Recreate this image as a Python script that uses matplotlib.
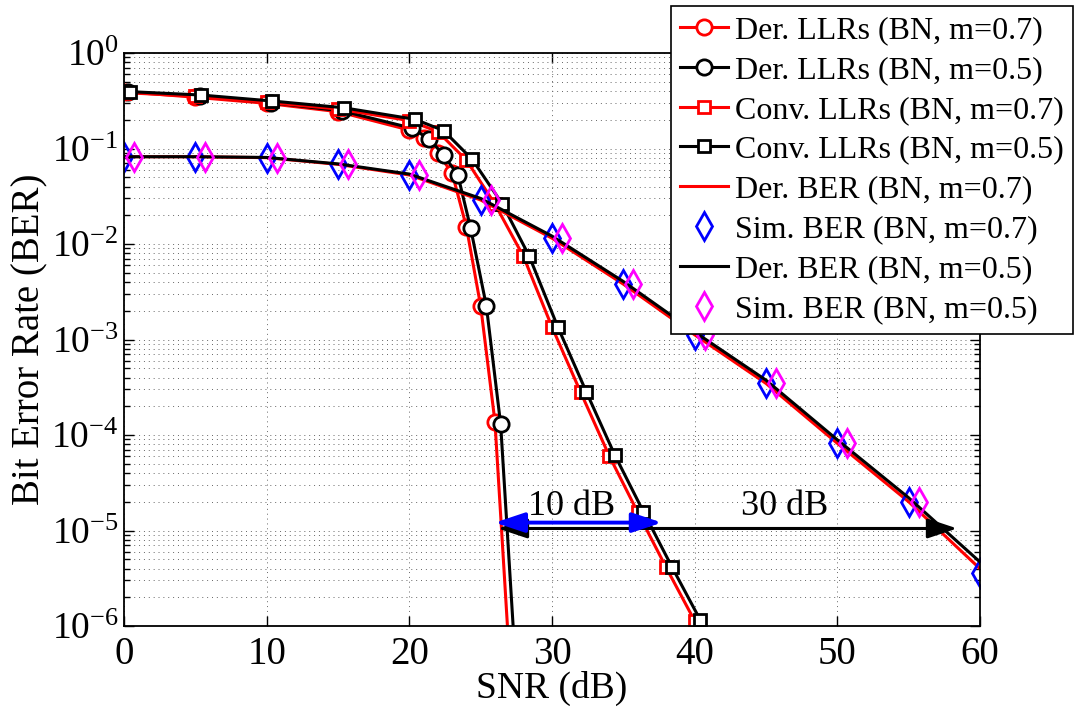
import matplotlib
matplotlib.use('Agg')
import matplotlib.pyplot as plt
from matplotlib.ticker import FixedLocator, NullFormatter, LogFormatterSciNotation

plt.rcParams['font.family'] = ['Liberation Serif', 'DejaVu Serif']
plt.rcParams['mathtext.fontset'] = 'custom'
plt.rcParams['mathtext.rm'] = 'Liberation Serif'
plt.rcParams['mathtext.it'] = 'Liberation Serif:italic'
plt.rcParams['mathtext.bf'] = 'Liberation Serif:bold'

# ---------------- data ----------------
# Derived LLRs (circles)
snr_dllr_07 = [0, 5, 10, 15, 20, 21, 22, 23, 24, 25, 26, 27]
ber_dllr_07 = [0.394, 0.344, 0.297, 0.243, 0.156, 0.129, 0.0897, 0.0553,
               0.0151, 2.24e-3, 1.38e-4, 5.0e-7]
snr_dllr_05 = [0.3, 5.3, 10.3, 15.3, 20.2, 21.4, 22.4, 23.4, 24.3, 25.4, 26.4, 27.4]
ber_dllr_05 = [0.391, 0.355, 0.302, 0.247, 0.163, 0.125, 0.0855, 0.0528,
               0.0146, 2.24e-3, 1.30e-4, 5.0e-7]

# Conventional LLRs (squares)
snr_cllr_07 = [0, 5, 10, 15, 20, 22, 24, 26, 28, 30, 32, 34, 36, 38, 40]
ber_cllr_07 = [0.385, 0.352, 0.305, 0.259, 0.196, 0.150, 0.0755, 0.0262,
               7.4e-3, 1.35e-3, 2.82e-4, 6.1e-5, 1.56e-5, 4.1e-6, 1.13e-6]
snr_cllr_05 = [0.4, 5.4, 10.4, 15.4, 20.4, 22.4, 24.4, 26.5, 28.4, 30.4,
               32.4, 34.4, 36.4, 38.4, 40.4]
ber_cllr_05 = [0.394, 0.363, 0.314, 0.267, 0.202, 0.154, 0.0771, 0.0265,
               7.48e-3, 1.36e-3, 2.84e-4, 6.17e-5, 1.58e-5, 4.17e-6, 1.15e-6]

# Derived / simulated BER
snr_ber = [0, 5, 10, 15, 20, 25, 30, 35, 40, 45, 50, 55, 60]
ber_der_07 = [0.0820, 0.0820, 0.0802, 0.0682, 0.0528, 0.0289, 0.0115,
              3.80e-3, 1.12e-3, 3.47e-4, 8.18e-5, 2.00e-5, 3.98e-6]
ber_der_05 = [0.0820, 0.0820, 0.0806, 0.0690, 0.0540, 0.0300, 0.0121,
              4.05e-3, 1.20e-3, 3.75e-4, 8.9e-5, 2.2e-5, 4.68e-6]
snr_sim_07 = [0, 5, 10, 15, 20, 25, 30, 35, 40, 45, 50, 55, 60]
ber_sim_07 = [0.0820, 0.0820, 0.0802, 0.0682, 0.0528, 0.0289, 0.0115,
              3.80e-3, 1.12e-3, 3.47e-4, 8.18e-5, 2.00e-5, 3.63e-6]
snr_sim_05 = [0.7, 5.7, 10.7, 15.7, 20.7, 25.7, 30.7, 35.7, 40.7, 45.7, 50.7, 55.7]
ber_sim_05 = [0.0820, 0.0820, 0.0802, 0.0682, 0.0528, 0.0289, 0.0115,
              3.80e-3, 1.12e-3, 3.47e-4, 8.18e-5, 2.00e-5]

labels = ['Der. LLRs (BN, m=0.7)', 'Der. LLRs (BN, m=0.5)',
          'Conv. LLRs (BN, m=0.7)', 'Conv. LLRs (BN, m=0.5)',
          'Der. BER (BN, m=0.7)', 'Sim. BER (BN, m=0.7)',
          'Der. BER (BN, m=0.5)', 'Sim. BER (BN, m=0.5)']

xticks = [0, 10, 20, 30, 40, 50, 60]
yticks = [1e-6, 1e-5, 1e-4, 1e-3, 1e-2, 1e-1, 1e0]
yminor = [m * d for d in [1e-6, 1e-5, 1e-4, 1e-3, 1e-2, 1e-1] for m in range(2, 10)]

# ---------------- figure ----------------
W, H = 1075, 709
fig = plt.figure(figsize=(W / 100, H / 100), dpi=100)
ax = fig.add_axes([124 / W, 1 - 626 / H, (980 - 124) / W, (626 - 53) / H])

lw = 2.2
ax.semilogy(snr_dllr_07, ber_dllr_07, '-o', color='red', mfc='white', mec='red',
            ms=11, mew=2, lw=lw, label=labels[0])
ax.semilogy(snr_dllr_05, ber_dllr_05, '-o', color='black', mfc='white', mec='black',
            ms=11, mew=2, lw=lw, label=labels[1])
ax.semilogy(snr_cllr_07, ber_cllr_07, '-s', color='red', mfc='white', mec='red',
            ms=8.5, mew=2, lw=lw, label=labels[2])
ax.semilogy(snr_cllr_05, ber_cllr_05, '-s', color='black', mfc='white', mec='black',
            ms=8.5, mew=2, lw=lw, label=labels[3])
ax.semilogy(snr_ber, ber_der_07, '-', color='red', lw=lw, label=labels[4])
ax.semilogy(snr_sim_07, ber_sim_07, 'd', color='blue', mfc='none', mec='blue',
            ms=14, mew=2, label=labels[5])
ax.semilogy(snr_ber, ber_der_05, '-', color='black', lw=lw, label=labels[6])
ax.semilogy(snr_sim_05, ber_sim_05, 'd', color='magenta', mfc='none', mec='magenta',
            ms=14, mew=2, label=labels[7])

ax.set_xlim(0, 60)
ax.set_ylim(1e-6, 1)
ax.xaxis.set_major_locator(FixedLocator(xticks))
ax.yaxis.set_major_locator(FixedLocator(yticks))
ax.yaxis.set_major_formatter(LogFormatterSciNotation())
ax.yaxis.set_minor_locator(FixedLocator(yminor))
ax.yaxis.set_minor_formatter(NullFormatter())

gstyle = dict(linestyle=(0, (1, 4)), color='0.4', lw=0.7)
ax.grid(True, which='major', axis='both', **gstyle)
ax.grid(True, which='minor', axis='y', **gstyle)

ax.tick_params(which='both', direction='in', top=True, right=True, width=1.0)
ax.tick_params(axis='x', which='major', length=7, pad=7, labelsize=28)
ax.tick_params(axis='y', which='major', length=7, pad=4, labelsize=27)
ax.tick_params(which='minor', length=4)
for s in ax.spines.values():
    s.set_linewidth(1.3)

ax.set_xlabel('SNR (dB)', fontsize=27, labelpad=-1)
ax.set_ylabel('Bit Error Rate (BER)', fontsize=28)
ax.yaxis.set_label_coords((48 - 124) / (980 - 124), 0.5)

# annotations
ax.annotate('', xy=(58.4, 1.05e-5), xytext=(26.2, 1.05e-5),
            arrowprops=dict(arrowstyle='<|-|>,head_length=0.9,head_width=0.3',
                            color='black', lw=2.2, shrinkA=0, shrinkB=0,
                            mutation_scale=20))
ax.annotate('', xy=(37.7, 1.21e-5), xytext=(26.0, 1.21e-5),
            arrowprops=dict(arrowstyle='<|-|>,head_length=0.9,head_width=0.3',
                            color='blue', lw=2.8, shrinkA=0, shrinkB=0,
                            mutation_scale=20))
ax.text(31.4, 1.45e-5, '10 dB', ha='center', va='baseline', fontsize=26)
ax.text(46.3, 1.45e-5, '30 dB', ha='center', va='baseline', fontsize=26)

leg = ax.legend(loc='upper right', bbox_to_anchor=(1073 / W, 1 - 6 / H),
                bbox_transform=fig.transFigure, fontsize=23, frameon=True,
                fancybox=False, edgecolor='black', framealpha=1, borderpad=0.3,
                labelspacing=0.33, handlelength=1.5, handletextpad=0.2,
                borderaxespad=0, numpoints=1)
leg.get_frame().set_linewidth(1.2)

fig.savefig('out.png', dpi=100)
